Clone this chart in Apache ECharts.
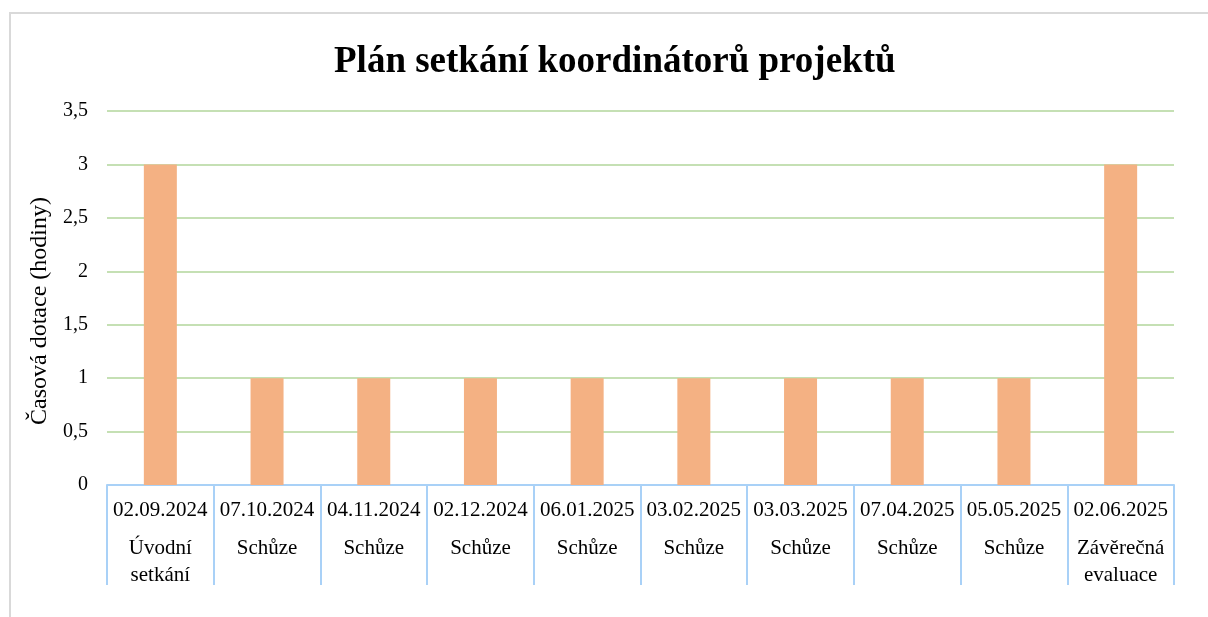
<!DOCTYPE html>
<html>
<head>
<meta charset="utf-8">
<script src="https://cdn.jsdelivr.net/npm/echarts@6/dist/echarts.min.js"></script>
<style>
  html, body { margin: 0; padding: 0; background: #fff; overflow: hidden; }
  .frame {
    position: absolute; left: 9px; top: 12px; width: 1300px; height: 700px;
    border: 2px solid #d9d9d9; box-sizing: border-box;
  }
  #chart { position: absolute; left: 0; top: 0; width: 1208px; height: 617px; }
</style>
</head>
<body>
<div class="frame"></div>
<div id="chart"></div>
<script>
// termíny setkání a typ setkání (dvouúrovňová osa X)
const dates = ['02.09.2024', '07.10.2024', '04.11.2024', '02.12.2024', '06.01.2025',
  '03.02.2025', '03.03.2025', '07.04.2025', '05.05.2025', '02.06.2025']
const meetingTypes = ['Úvodní\nsetkání', 'Schůze', 'Schůze', 'Schůze', 'Schůze',
  'Schůze', 'Schůze', 'Schůze', 'Schůze', 'Závěrečná\nevaluace']
const hours = [3, 1, 1, 1, 1, 1, 1, 1, 1, 3]
const yTicks = [0, 0.5, 1, 1.5, 2, 2.5, 3, 3.5]

const serif = '"Liberation Serif", "Times New Roman", serif'
const categories = dates.map((d, i) => d + '|' + meetingTypes[i])

const chart = echarts.init(document.getElementById('chart'))

chart.setOption({
  animation: false,
  title: {
    text: 'Plán setkání koordinátorů projektů',
    left: 329,
    top: 39,
    textStyle: { fontFamily: serif, fontSize: 37, fontWeight: 'bold', color: '#000' }
  },
  grid: { left: 107, right: 34, top: 111, bottom: 132 },
  xAxis: {
    type: 'category',
    data: categories,
    axisLine: { lineStyle: { color: '#a9d1f7', width: 2 } },
    axisTick: { show: true, length: 100, interval: 0, lineStyle: { color: '#a9d1f7', width: 2 } },
    axisLabel: {
      interval: 0,
      margin: 1,
      formatter: (v) => {
        const [d, t] = v.split('|')
        return '{d|' + d + '}\n' + t.split('\n').map(s => '{t|' + s + '}').join('\n')
      },
      rich: {
        d: { fontFamily: serif, fontSize: 21, lineHeight: 49, color: '#000' },
        t: { fontFamily: serif, fontSize: 21, lineHeight: 27, color: '#000' }
      }
    }
  },
  yAxis: {
    type: 'value',
    min: 0,
    max: yTicks[yTicks.length - 1],
    interval: 0.5,
    name: 'Časová dotace (hodiny)',
    nameLocation: 'middle',
    nameGap: 50,
    nameTextStyle: { fontFamily: serif, fontSize: 24, color: '#000', padding: [0, 26, 0, 0] },
    axisLine: { show: false },
    axisTick: { show: false },
    axisLabel: {
      margin: 19,
      fontFamily: serif,
      fontSize: 20,
      color: '#000',
      formatter: (v) => String(v).replace('.', ',')
    },
    splitLine: { lineStyle: { color: '#c5e0b4', width: 2 } }
  },
  series: [{
    type: 'bar',
    data: hours,
    barWidth: 33,
    itemStyle: { color: '#f4b183' }
  }]
})
</script>
</body>
</html>
